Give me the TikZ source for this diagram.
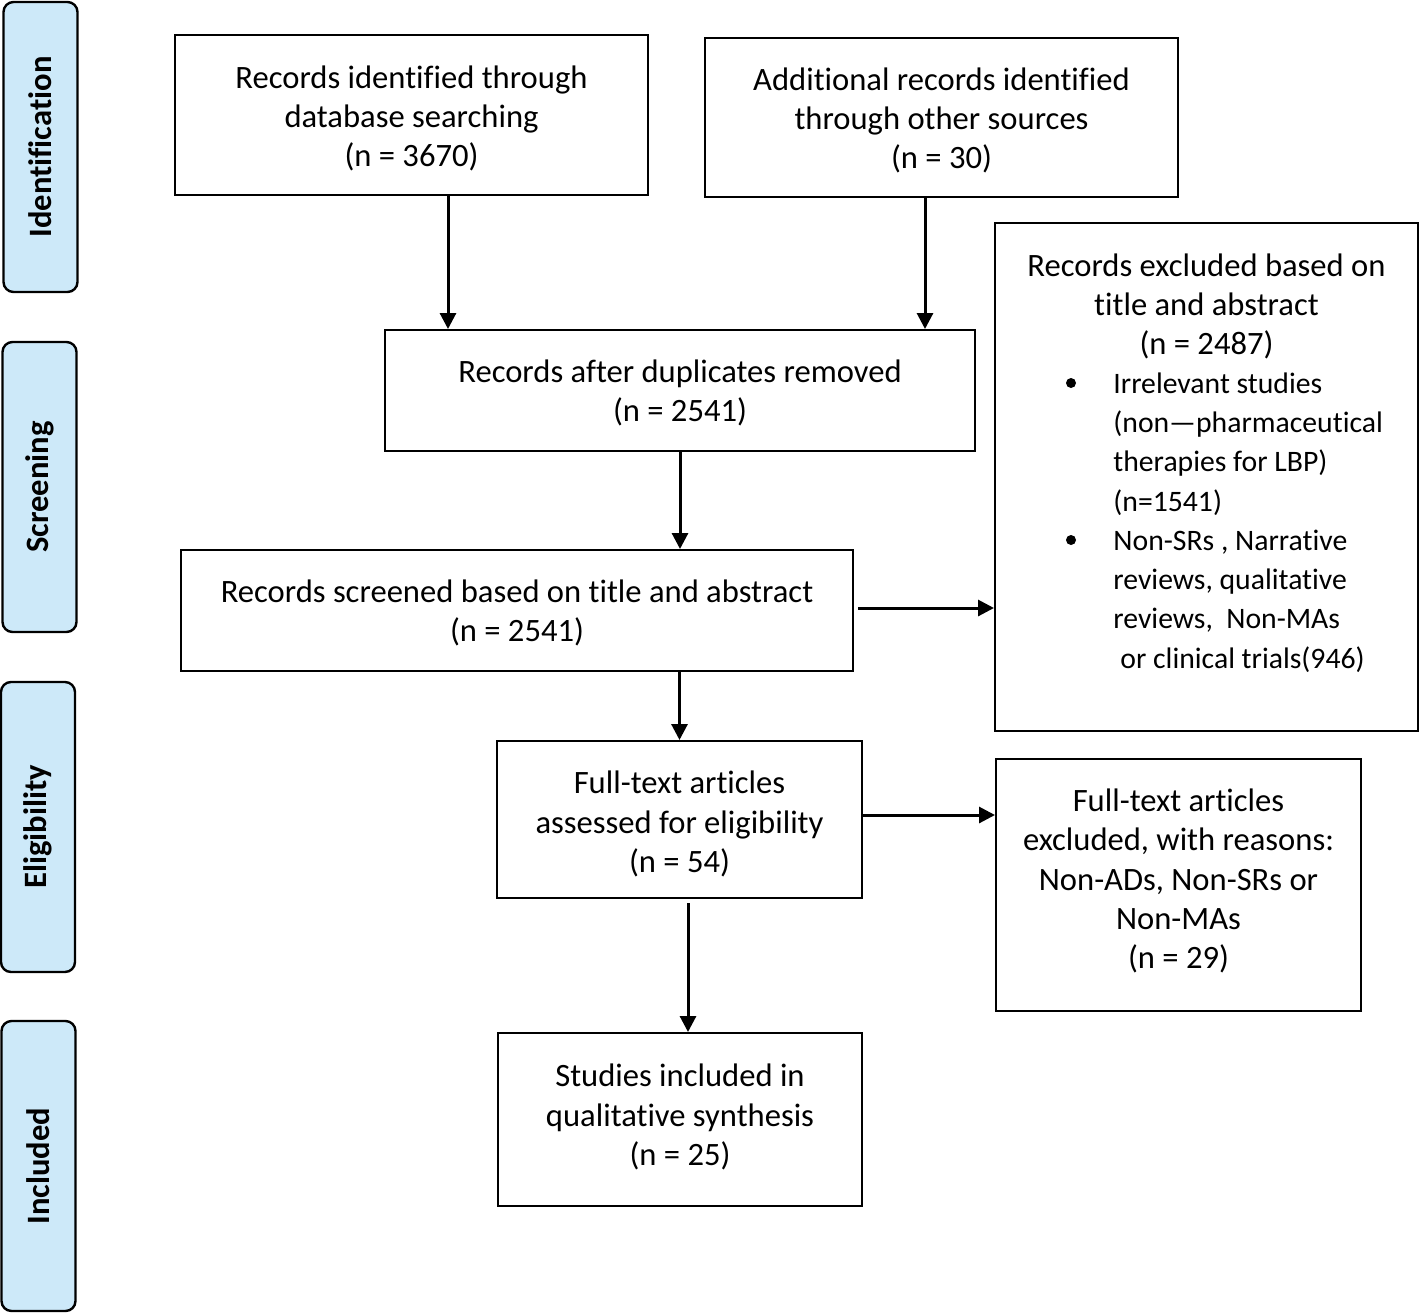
\documentclass[tikz,border=0pt]{standalone}
\usepackage{fontspec}
\setmainfont[Ligatures=NoCommon]{Carlito}
\usetikzlibrary{arrows.meta}
\definecolor{phaseblue}{RGB}{205,233,249}
\begin{document}
\begin{tikzpicture}[x=0.5pt,y=-0.5pt,
  box/.style={draw, line width=1pt, inner sep=0pt},
  txt/.style={inner sep=0pt, align=center, font=\fontsize{16.3}{19.7}\selectfont},
  btxt/.style={inner sep=0pt, align=left, anchor=west, font=\fontsize{14.85}{19.7}\selectfont},
  phase/.style={draw, line width=1.2pt, fill=phaseblue, rounded corners=5pt, inner sep=0pt, rotate=90,
     minimum width=145pt, minimum height=37pt, font=\fontsize{16.3}{18}\selectfont\bfseries},
  arr/.style={-{Triangle[length=8pt,width=8pt]}, line width=1.5pt}]
\useasboundingbox (0,0) rectangle (1419,1313);
% phase labels
\node[phase] (p1) at (40.5,147) {Identification};
\node[phase] (p2) at (39.5,487) {Screening};
\node[phase] (p3) at (38,827) {Eligibility};
\node[phase] (p4) at (38.5,1166) {Included};
% boxes
\node[box, minimum width=236.5pt, minimum height=80pt] (id1) at (411.5,115) {};
\node[box, minimum width=236.5pt, minimum height=79.5pt] (id2) at (941.5,117.5) {};
\node[box, minimum width=295pt, minimum height=60.5pt] (dup) at (680,390.5) {};
\node[box, minimum width=336pt, minimum height=60.5pt] (scr) at (517,610.5) {};
\node[box, minimum width=211.5pt, minimum height=254pt] (ex) at (1206.5,477) {};
\node[box, minimum width=182.5pt, minimum height=78.5pt] (ft) at (679.5,819.5) {};
\node[box, minimum width=182.5pt, minimum height=126pt] (ftex) at (1178.5,885) {};
\node[box, minimum width=182pt, minimum height=86.5pt] (inc) at (680,1119.5) {};
% texts
\node[txt] (id1t) at (411.5,118.5) {Records identified through\\database searching\\(n = 3670)};
\node[txt] (id2t) at (941.5,120.5) {Additional records identified\\through other sources\\(n = 30)};
\node[txt] (dupt) at (680,393) {Records after duplicates removed\\(n = 2541)};
\node[txt] (scrt) at (517,613) {Records screened based on title and abstract\\(n = 2541)};
\node[txt] (ftt) at (679.5,824) {Full-text articles\\assessed for eligibility\\(n = 54)};
\node[txt] (ftext) at (1178.5,881) {Full-text articles\\excluded, with reasons:\\Non-ADs, Non-SRs or\\Non-MAs\\(n = 29)};
\node[txt] (inct) at (680,1117) {Studies included in\\qualitative synthesis\\(n = 25)};
% excluded box contents
\node[txt] (ext) at (1206.5,306.5) {Records excluded based on\\title and abstract\\(n = 2487)};
\node[btxt] (exb1) at (1113,444) {Irrelevant studies\\(non—pharmaceutical\\therapies for LBP)\\(n=1541)};
\node[btxt] (exb2) at (1113,601) {Non-SRs , Narrative\\reviews, qualitative\\reviews,\ \ Non-MAs\\\hspace*{3.5pt}or clinical trials(946)};
\node[circle, fill, inner sep=0pt, minimum size=5pt] (bu1) at (1071,383) {};
\node[circle, fill, inner sep=0pt, minimum size=5pt] (bu2) at (1071,540) {};
% connectors
\coordinate (a1) at (448,0);
\coordinate (a2) at (925,0);
\coordinate (a3) at (688,0);
\draw[arr] (id1.south -| a1) -- (dup.north -| a1);
\draw[arr] (id2.south -| a2) -- (dup.north -| a2);
\draw[arr] (dup.south) -- (scr.north -| dup.south);
\draw[arr, shorten <=2pt] ([yshift=1.25pt]scr.east) -- ([yshift=1.25pt]scr.east -| ex.west);
\draw[arr] (scr.south -| ft.north) -- (ft.north);
\draw[arr] ([yshift=2.25pt]ft.east) -- ([yshift=2.25pt]ft.east -| ftex.west);
\draw[arr, shorten <=2pt] (ft.south -| a3) -- (inc.north -| a3);
\end{tikzpicture}
\end{document}
